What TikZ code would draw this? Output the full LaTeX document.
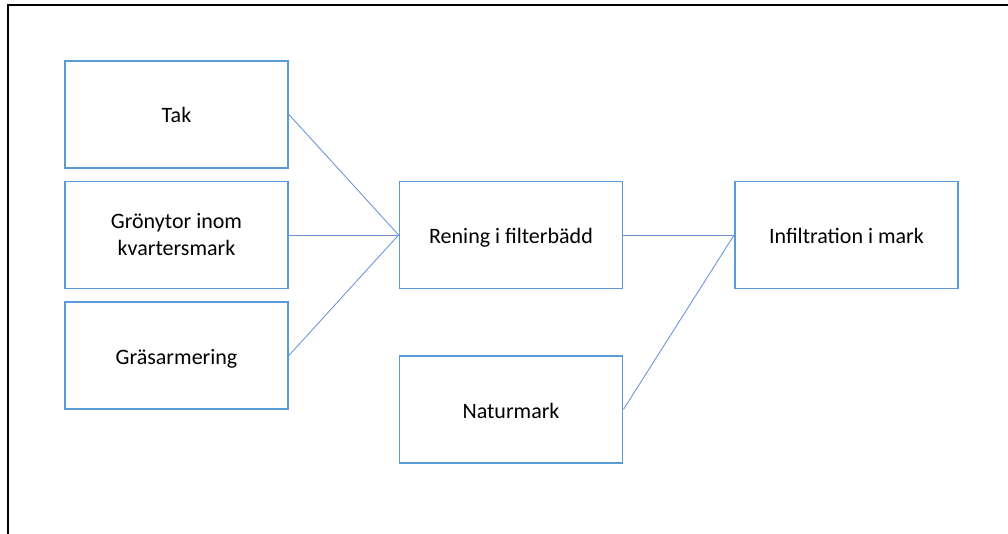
\documentclass[tikz,border=0pt]{standalone}
\usepackage{fontspec}
\setmainfont{Carlito}
\definecolor{boxblue}{HTML}{5B9BD5}
\definecolor{linkblue}{HTML}{6F97D8}
\begin{document}
\begin{tikzpicture}[x=1pt,y=-1pt,
  box/.style={draw=boxblue,line width=1.8pt,minimum width=223pt,minimum height=107pt,
    align=center,font=\fontsize{22}{27}\selectfont,inner sep=0pt},
  stage/.style={box,text height=17pt,text depth=0pt},
  link/.style={draw=linkblue,line width=0.9pt}]
  \useasboundingbox (0,0) rectangle (1008,534);
  % frame
  \draw[line width=2pt] (1008,5) -- (8,5) -- (8,534);
  % stages
  \node[stage] (tak)   at (176.5,114.5) {Tak};
  \node[box]   (gron)  at (176.5,235)   {Grönytor inom\\kvartersmark};
  \node[stage] (gras)  at (176.5,355.5) {Gräsarmering};
  \node[stage] (ren)   at (511,235)     {Rening i filterbädd};
  \node[stage] (natur) at (511,409.5)   {Naturmark};
  \node[stage] (inf)   at (846.5,235)   {Infiltration i mark};
  % connectors
  \draw[link] (tak.east) -- (ren.west);
  \draw[link] (gron.east) -- (ren.west);
  \draw[link] (gras.east) -- (ren.west);
  \draw[link] (ren.east) -- (inf.west);
  \draw[link] (natur.east) -- (inf.west);
\end{tikzpicture}
\end{document}
